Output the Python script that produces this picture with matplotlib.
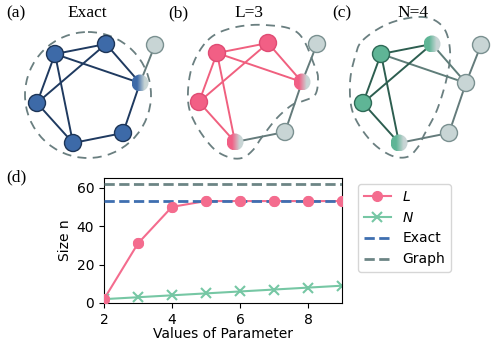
import numpy as np
import matplotlib
matplotlib.use("Agg")
import matplotlib.pyplot as plt
import matplotlib.patches as patches
from matplotlib.colors import LinearSegmentedColormap

# ---- data for panel (d)
params = [2, 3, 4, 5, 6, 7, 8, 9]
size_L = [2, 31, 50, 53, 53, 53, 53, 53]
size_N = [2, 3, 4, 5, 6, 7, 8, 9]
size_exact = 53
size_graph = 62

# ---- graph layout (pixel coords of panel a), shared by the three panels
node_x = [55, 106, 140, 37, 73, 123, 155]
node_y = [54, 44, 83, 103, 143, 133, 45]
edges = [(0, 1), (0, 2), (0, 3), (0, 4), (1, 3), (1, 2), (2, 5), (5, 4), (4, 3), (2, 6)]
panel_dx = [0, 162, 326]
panel_dy = [0, -1, 0]
panel_tags = ['(a)', '(b)', '(c)']
panel_titles = ['Exact', 'L=3', 'N=4']

# node state per panel: 'c' = coloured, 'h' = half, 'g' = gray
node_state = [
    ['c', 'c', 'h', 'c', 'c', 'c', 'g'],
    ['c', 'c', 'h', 'c', 'h', 'g', 'g'],
    ['c', 'h', 'g', 'c', 'h', 'g', 'g'],
]
# edge colour kind per panel: 'c' coloured, 'm' mixed, 'g' gray
edge_state = [
    ['c', 'c', 'c', 'c', 'c', 'c', 'c', 'c', 'c', 'g'],
    ['c', 'c', 'c', 'c', 'c', 'c', 'g', 'g', 'c', 'g'],
    ['c', 'm', 'c', 'c', 'c', 'm', 'g', 'g', 'c', 'g'],
]

# dashed contours
circle_a = (88, 95, 63)
contour_b_x = [208, 232, 265, 298, 315, 318, 315, 303, 292, 277, 262, 253, 242, 228, 212, 195, 188, 192]
contour_b_y = [40, 28, 25, 33, 67, 80, 95, 101, 105, 118, 137, 150, 158, 157, 147, 123, 100, 67]
contour_c_x = [363, 390, 423, 443, 450, 447, 437, 425, 418, 407, 390, 370, 353, 350, 355]
contour_c_y = [40, 23, 17, 27, 50, 77, 110, 133, 147, 157, 155, 140, 113, 83, 57]

face_col = ['#3d6aa8', '#f25f85', '#5fb596']
rim_col = ['#1d3557', '#e04c74', '#2f6a57']
edge_col = ['#1f3a60', '#f0607f', '#2d5e50']
mix_col = '#5f7d79'
gray_face = '#c8d5d5'
gray_rim = '#7a9090'
gray_edge = '#647b7b'
dash_col = '#6a7f80'


def closed_spline(xs, ys, n=30):
    # periodic Catmull-Rom through the given points
    p = np.column_stack([xs, ys]).astype(float)
    k = len(p)
    out = []
    t = np.linspace(0, 1, n, endpoint=False)[:, None]
    for i in range(k):
        p0, p1, p2, p3 = p[i - 1], p[i], p[(i + 1) % k], p[(i + 2) % k]
        seg = 0.5 * ((2 * p1) + (-p0 + p2) * t + (2 * p0 - 5 * p1 + 4 * p2 - p3) * t ** 2
                     + (-p0 + 3 * p1 - 3 * p2 + p3) * t ** 3)
        out.append(seg)
    out = np.vstack(out)
    return np.vstack([out, out[:1]])


fig = plt.figure(figsize=(4.98, 3.43), dpi=100)

# top panels drawn in pixel coordinates
top = fig.add_axes([0, 0, 1, 1])
top.axis('off')
R = 8.5
grad = np.linspace(0, 1, 64)[None, :]
for p in range(3):
    xs = [x + panel_dx[p] for x in node_x]
    ys = [y + panel_dy[p] for y in node_y]
    for (i, j), st in zip(edges, edge_state[p]):
        c = {'c': edge_col[p], 'm': mix_col, 'g': gray_edge}[st]
        top.plot([xs[i], xs[j]], [ys[i], ys[j]], color=c, lw=1.4, zorder=2)
    cmap = LinearSegmentedColormap.from_list(
        'g%d' % p, [(0, face_col[p]), (0.3, face_col[p]), (0.75, gray_face), (1, gray_face)])
    for k in range(7):
        st = node_state[p][k]
        if st == 'g':
            fc, ec = gray_face, gray_rim
        elif st == 'c':
            fc, ec = face_col[p], rim_col[p]
        else:
            fc, ec = 'none', 'none'
        circ = patches.Circle((xs[k], ys[k]), R, facecolor=fc, edgecolor=ec, lw=1.0, zorder=4)
        top.add_patch(circ)
        if st == 'h':
            im = top.imshow(grad, cmap=cmap, extent=(xs[k] - R, xs[k] + R, ys[k] + R, ys[k] - R),
                            aspect='auto', zorder=3, interpolation='bilinear')
            im.set_clip_path(patches.Circle((xs[k], ys[k]), R, transform=top.transData))
    top.text(16 + panel_dx[p], 13, panel_tags[p], family='Liberation Serif', fontsize=12.5,
             ha='center', va='center')
    top.text(87 + panel_dx[p], 13, panel_titles[p], family='Liberation Serif', fontsize=12.5,
             ha='center', va='center')

top.add_patch(patches.Circle(circle_a[:2], circle_a[2], fill=False, ls=(0, (5, 3.5)),
                             lw=1.3, edgecolor=dash_col, zorder=1))
for cx, cy in [(contour_b_x, contour_b_y), (contour_c_x, contour_c_y)]:
    pts = closed_spline(cx, cy)
    top.plot(pts[:, 0], pts[:, 1], ls=(0, (5, 3.5)), lw=1.3, color=dash_col, zorder=1)
top.text(16, 177, '(d)', family='Liberation Serif', fontsize=12.5, ha='center', va='center')
top.set_xlim(0, 498)
top.set_ylim(343, 0)

# ---- panel (d)
ax = fig.add_axes([104 / 498, 1 - 303 / 343, 238 / 498, 125 / 343])
pink = '#f46c8e'
green = '#76c7a4'
blue = '#3f6fb0'
gray = '#6c8585'
ax.plot(params, size_L, color=pink, lw=1.5, marker='o', ms=7, label='$L$', zorder=2)
ax.plot(params, size_N, color=green, lw=1.5, marker='x', ms=7, mew=1.5, label='$N$', zorder=2)
ax.axhline(size_exact, color=blue, lw=2, ls='--', label='Exact', zorder=3)
ax.axhline(size_graph, color=gray, lw=2, ls='--', label='Graph', zorder=3)
ax.plot(params, size_L, color=pink, lw=0, marker='o', ms=7, zorder=4)
ax.set_xlim(2, 9)
ax.set_ylim(0, 65)
ax.set_xticks([2, 4, 6, 8])
ax.set_yticks([0, 20, 40, 60])
ax.tick_params(labelsize=10)
ax.set_xlabel('Values of Parameter', fontsize=10, labelpad=0)
ax.set_ylabel('Size n', fontsize=10, labelpad=3)
ax.legend(loc='upper left', bbox_to_anchor=(358 / 498, 1 - 184 / 343),
          bbox_transform=fig.transFigure, borderaxespad=0, fontsize=10)

fig.savefig('out.png', dpi=100)
